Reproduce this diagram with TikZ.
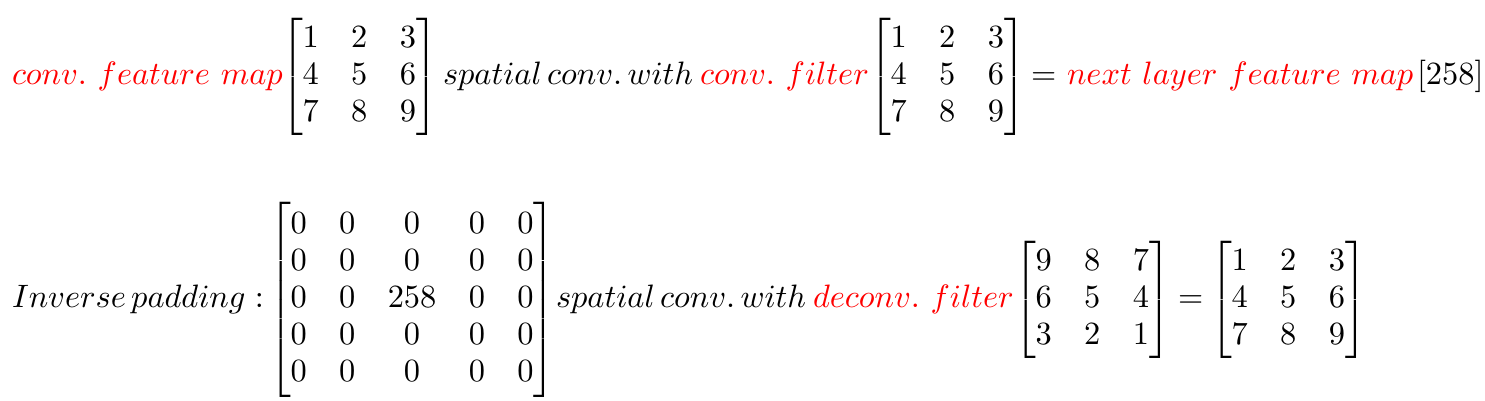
\documentclass[tikz,border=0pt]{standalone}
\usepackage{amsmath}
\begin{document}
\renewcommand{\arraystretch}{0.95}
\delimiterfactor=1000
\delimitershortfall=0pt
\begin{tikzpicture}[x=0.30864pt,y=-0.30864pt,
  every node/.style={inner sep=0pt, outer sep=0pt, anchor=base west},
  redtxt/.style={text=red},
  blktxt/.style={text=black}]
\useasboundingbox (0,0) rectangle (1485,401);
% row 1
\node[redtxt] (r1a) at (12,85) {$conv.\ feature\ map$};
\node[blktxt] (r1m1) at (281,85) {$\begin{bmatrix}1&2&3\\4&5&6\\7&8&9\end{bmatrix}$};
\node[blktxt] (r1b) at (443,85) {$spatial\,conv.\,with$};
\node[redtxt] (r1c) at (700,85) {$conv.\ filter$};
\node[blktxt] (r1m2) at (869,85) {$\begin{bmatrix}1&2&3\\4&5&6\\7&8&9\end{bmatrix}$};
\node[blktxt] (r1eq) at (1031,85) {$=$};
\node[redtxt] (r1d) at (1067,85) {$next\ layer\ feature\ map$};
\node[blktxt] (r1v) at (1417,85) {$\left[258\right]$};
% row 2
\node[blktxt] (r2a) at (12,308) {$Inverse\,padding:$};
\node[blktxt] (r2m1) at (269,308) {$\begin{bmatrix}0&0&0&0&0\\0&0&0&0&0\\0&0&258&0&0\\0&0&0&0&0\\0&0&0&0&0\end{bmatrix}$};
\node[blktxt] (r2b) at (556,308) {$spatial\,conv.\,with$};
\node[redtxt] (r2c) at (813,308) {$deconv.\ filter$};
\node[blktxt] (r2m2) at (1014,308) {$\begin{bmatrix}9&8&7\\6&5&4\\3&2&1\end{bmatrix}$};
\node[blktxt] (r2eq) at (1178,308) {$=$};
\node[blktxt] (r2m3) at (1210,308) {$\begin{bmatrix}1&2&3\\4&5&6\\7&8&9\end{bmatrix}$};
\end{tikzpicture}
\end{document}
